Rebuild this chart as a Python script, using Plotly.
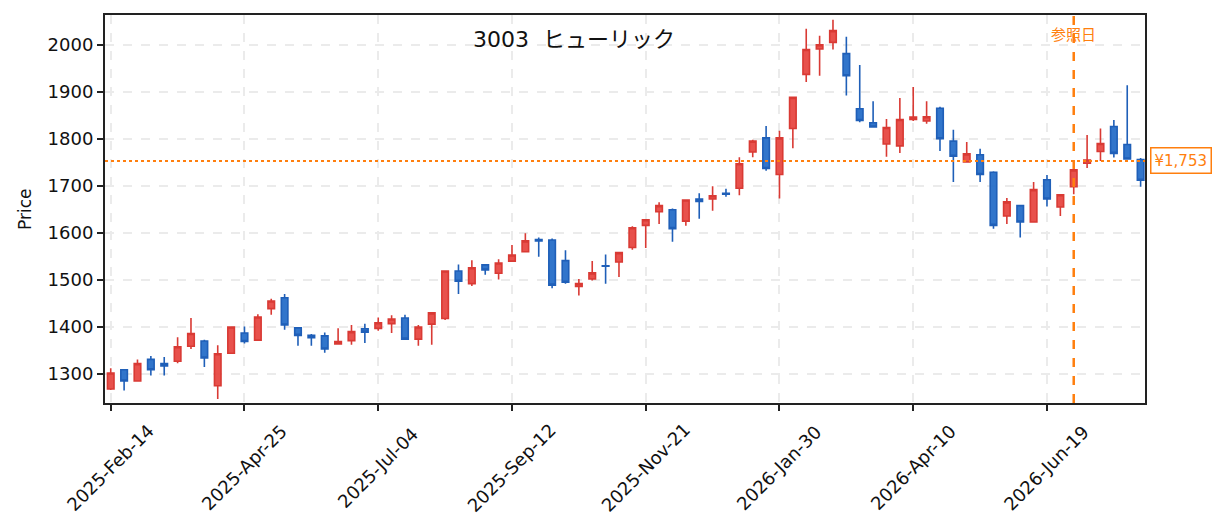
import pandas as pd
import plotly.graph_objects as go

# weekly candles, 3003 ヒューリック
first_week = "2025-02-14"

opens = [1268, 1309, 1285, 1331, 1322, 1327, 1359, 1370, 1275, 1344,
         1387, 1372, 1439, 1462, 1398, 1382, 1381, 1364, 1371, 1396,
         1397, 1407, 1419, 1374, 1406, 1418, 1519, 1492, 1532, 1514,
         1540, 1560, 1586, 1585, 1541, 1486, 1502, 1530, 1538, 1569,
         1616, 1645, 1649, 1625, 1672, 1672, 1684, 1695, 1772, 1802,
         1724, 1822, 1937, 1991, 2005, 1981, 1864, 1834, 1789, 1785,
         1841, 1838, 1865, 1795, 1751, 1766, 1729, 1636, 1658, 1623,
         1713, 1655, 1698, 1748, 1773, 1826, 1788, 1756]
highs = [1312, 1310, 1331, 1338, 1336, 1378, 1419, 1373, 1361, 1401,
         1401, 1427, 1460, 1470, 1399, 1385, 1388, 1397, 1404, 1407,
         1420, 1425, 1426, 1404, 1430, 1520, 1533, 1542, 1533, 1544,
         1574, 1599, 1590, 1588, 1563, 1502, 1540, 1554, 1559, 1614,
         1628, 1665, 1652, 1670, 1684, 1699, 1694, 1761, 1798, 1827,
         1817, 1888, 2034, 2019, 2053, 2017, 1957, 1880, 1842, 1887,
         1910, 1880, 1868, 1819, 1793, 1779, 1731, 1674, 1659, 1708,
         1723, 1682, 1736, 1808, 1822, 1840, 1914, 1759]
lows = [1266, 1265, 1284, 1297, 1297, 1323, 1353, 1315, 1247, 1343,
        1365, 1370, 1426, 1394, 1360, 1360, 1345, 1363, 1362, 1366,
        1392, 1387, 1373, 1360, 1362, 1415, 1470, 1487, 1511, 1501,
        1539, 1559, 1549, 1482, 1492, 1467, 1499, 1492, 1506, 1564,
        1568, 1619, 1581, 1615, 1630, 1647, 1677, 1680, 1761, 1732,
        1673, 1780, 1921, 1934, 1990, 1892, 1835, 1824, 1762, 1770,
        1838, 1832, 1774, 1708, 1750, 1708, 1609, 1619, 1590, 1622,
        1656, 1636, 1682, 1738, 1753, 1760, 1756, 1698]
closes = [1302, 1285, 1322, 1309, 1317, 1358, 1386, 1334, 1343, 1400,
          1369, 1421, 1455, 1404, 1382, 1377, 1353, 1369, 1390, 1389,
          1409, 1417, 1374, 1400, 1430, 1519, 1497, 1526, 1521, 1536,
          1553, 1583, 1583, 1489, 1495, 1492, 1515, 1529, 1558, 1611,
          1628, 1658, 1609, 1670, 1667, 1679, 1682, 1747, 1795, 1737,
          1802, 1888, 1990, 2000, 2030, 1934, 1839, 1825, 1824, 1841,
          1846, 1847, 1800, 1763, 1768, 1724, 1616, 1666, 1623, 1692,
          1672, 1681, 1734, 1755, 1790, 1769, 1757, 1712]

ref_week = 72
ref_price = 1753

tick_weeks = [0, 10, 20, 30, 40, 50, 60, 70]

dates = pd.date_range(first_week, periods=len(opens), freq="7D")
ref_date = dates[ref_week]
tick_dates = [dates[i] for i in tick_weeks]

ORANGE = "#ff7f0e"
FONT = "DejaVu Sans, Noto Sans CJK JP"

fig = go.Figure()

fig.add_trace(go.Candlestick(
    x=dates, open=opens, high=highs, low=lows, close=closes,
    increasing=dict(fillcolor="rgba(231,72,66,0.95)", line=dict(color="#d93a34", width=1.6)),
    decreasing=dict(fillcolor="rgba(38,110,200,0.95)", line=dict(color="#1f5fb8", width=1.6)),
    showlegend=False, hoverinfo="skip",
))

# reference date and price
fig.add_shape(type="line", x0=ref_date, x1=ref_date, xref="x", y0=0, y1=1, yref="paper",
              line=dict(color=ORANGE, width=2.5, dash="dash"))
fig.add_shape(type="line", x0=0, x1=1, xref="paper", y0=ref_price, y1=ref_price, yref="y",
              line=dict(color=ORANGE, width=2, dash="dot"))

fig.add_annotation(x=ref_date, xref="x", y=0.948, yref="paper", text="参照日",
                   xanchor="center", yanchor="middle", showarrow=False,
                   font=dict(size=15, color=ORANGE, family=FONT))
fig.add_annotation(x=1.035, xref="paper", y=ref_price, yref="y", text=f"¥{ref_price:,}",
                   xanchor="center", yanchor="middle", showarrow=False,
                   font=dict(size=15, color=ORANGE, family=FONT),
                   bgcolor="white", bordercolor=ORANGE, borderwidth=1.5, borderpad=3)
fig.add_annotation(x=0.451, xref="paper", y=0.937, yref="paper",
                   text="3003\u00a0 ヒューリック", xanchor="center", yanchor="middle",
                   showarrow=False, font=dict(size=22, color="#111", family=FONT))

# x tick labels centred under their ticks, rotated 45 degrees
for d in tick_dates:
    fig.add_annotation(x=d, xref="x", y=-0.1675, yref="paper", text=d.strftime("%Y-%b-%d"),
                       textangle=-45, xanchor="center", yanchor="middle", showarrow=False,
                       font=dict(size=18, color="#111", family=FONT))

# y axis title
fig.add_annotation(x=-0.077, xref="paper", y=0.5, yref="paper", text="Price",
                   textangle=-90, xanchor="center", yanchor="middle", showarrow=False,
                   font=dict(size=17, color="#111", family=FONT))

x_lo = dates[0] - pd.Timedelta(days=3)
x_hi = dates[-1] + pd.Timedelta(days=2.3)

fig.update_xaxes(
    type="date", range=[x_lo, x_hi], rangeslider_visible=False,
    tickvals=tick_dates, showticklabels=False,
    showline=True, linecolor="#222", linewidth=2, mirror=True,
    ticks="outside", ticklen=6, tickwidth=1.5, tickcolor="#222",
    showgrid=True, gridcolor="#ebebeb", gridwidth=1.5, griddash="dash",
)
fig.update_yaxes(
    range=[1238.3, 2063.2], tickvals=[1300, 1400, 1500, 1600, 1700, 1800, 1900, 2000],
    showline=True, linecolor="#222", linewidth=2, mirror=True,
    ticks="outside", ticklen=6, tickwidth=1.5, tickcolor="#222",
    showgrid=True, gridcolor="#ebebeb", gridwidth=1.5, griddash="dash",
    zeroline=False,
    tickfont=dict(size=18, color="#111", family=FONT),
)

fig.update_layout(
    width=1225, height=532,
    margin=dict(l=105, r=80, t=15, b=129, autoexpand=False),
    plot_bgcolor="white", paper_bgcolor="white",
    boxgap=0.3,
    font=dict(family=FONT),
)

# the page's default 8px body margin would shift the figure
fig.write_html("out.html", config={"displayModeBar": False},
               post_script="document.body.style.margin='0';")
